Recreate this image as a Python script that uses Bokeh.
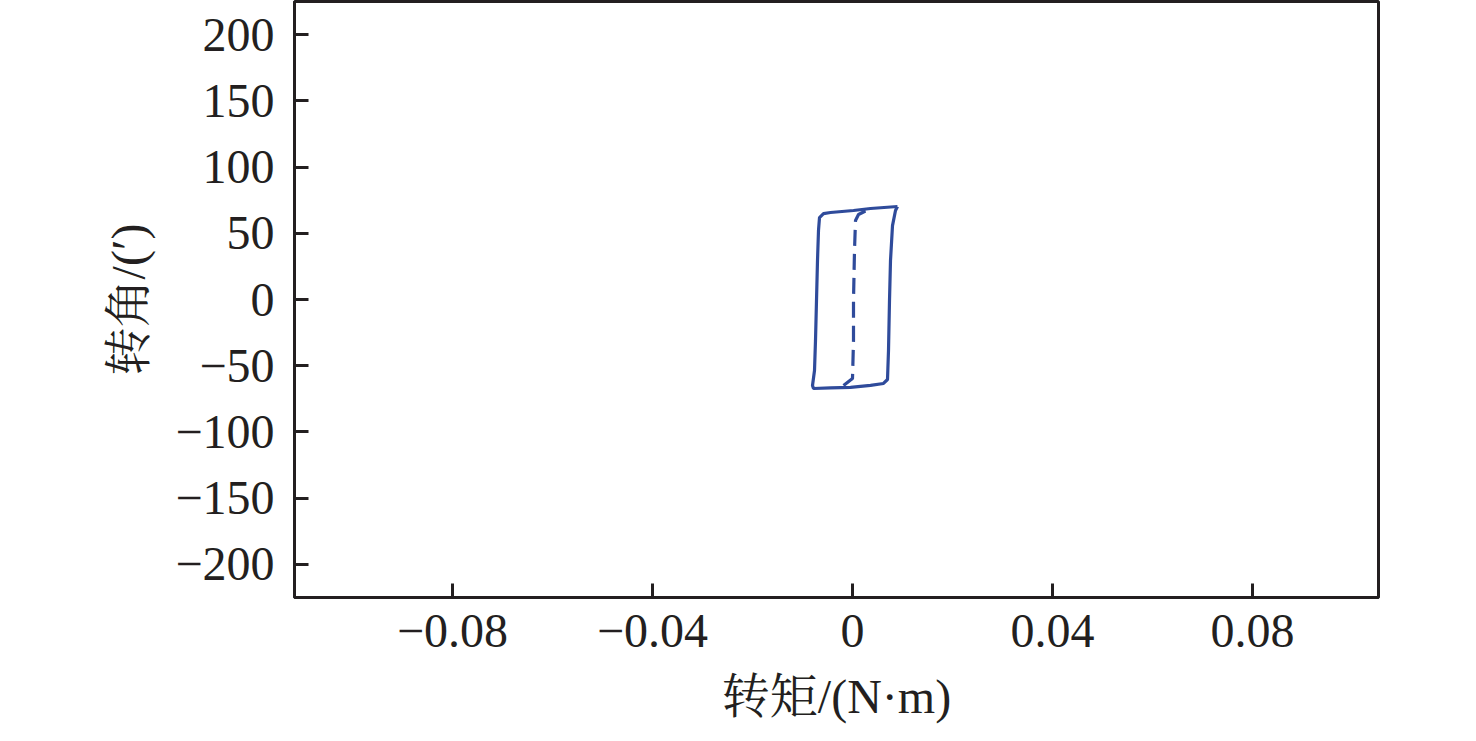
from bokeh.plotting import figure
from bokeh.models import FixedTicker, CustomJSTickFormatter, Range1d
from bokeh.embed import file_html
from bokeh.resources import INLINE

# Hysteresis loop (torque N·m, angle ′)
loop_x = [0.0090, 0.0036, 0.0002, -0.0044, -0.0058, -0.0066, -0.0068, -0.0070, -0.0072,
          -0.0074, -0.0076, -0.0080, -0.0078, -0.0044, -0.0004, 0.0036, 0.0062, 0.0070,
          0.0072, 0.0074, 0.0076, 0.0080, 0.0086, 0.0090]
loop_y = [70.2, 68.7, 67.2, 65.7, 64.9, 61.9, 52.1, 29.4, -0.8,
          -30.9, -53.6, -64.9, -67.2, -66.8, -66.4, -64.9, -63.4, -60.4,
          -38.5, -0.8, 29.4, 55.8, 67.2, 70.2]

# Initial (dashed) curve
init_x = [-0.0018, 0.0000, 0.0002, 0.0002, 0.0004, 0.0006, 0.0012, 0.0024, 0.0036]
init_y = [-64.9, -59.6, -30.9, -0.8, 37.0, 59.6, 64.2, 66.4, 67.5]

x_ticks = [-0.08, -0.04, 0, 0.04, 0.08]
y_ticks = [-200, -150, -100, -50, 0, 50, 100, 150, 200]

FONT = "'Liberation Serif', 'Times New Roman', serif"
CJK_FONT = "'Liberation Serif', 'Noto Serif CJK SC', 'Noto Sans CJK SC', serif"
LINE = "#2f4b9b"

p = figure(width=1460, height=725, output_backend="svg", toolbar_location=None,
           x_range=Range1d(-0.1116, 0.1052), y_range=Range1d(-225, 225),
           min_border_left=294, min_border_right=82, min_border_top=1, min_border_bottom=128)
p.background_fill_color = "white"
p.border_fill_color = "white"
p.grid.visible = False
p.outline_line_color = "#231f20"
p.outline_line_width = 3

p.line(loop_x, loop_y, line_color=LINE, line_width=3.2)
p.line(init_x, init_y, line_color=LINE, line_width=3.2, line_dash="16 8")

for ax in (p.xaxis[0], p.yaxis[0]):
    ax.axis_line_color = "#231f20"
    ax.axis_line_width = 3
    ax.major_tick_line_color = "#231f20"
    ax.major_tick_line_width = 3
    ax.major_tick_in = 14
    ax.major_tick_out = 0
    ax.minor_tick_line_color = None
    ax.major_label_text_font = FONT
    ax.major_label_text_font_size = "48px"
    ax.major_label_text_color = "#231f20"
    ax.axis_label_text_font = CJK_FONT
    ax.axis_label_text_font_size = "48px"
    ax.axis_label_text_font_style = "normal"
    ax.axis_label_text_color = "#231f20"

p.xaxis.major_label_standoff = 17
p.yaxis.major_label_standoff = 20
p.xaxis.ticker = FixedTicker(ticks=x_ticks)
p.yaxis.ticker = FixedTicker(ticks=y_ticks)
p.xaxis.formatter = CustomJSTickFormatter(code="""
    if (Math.abs(tick) < 1e-9) return "0";
    return tick.toFixed(2).replace("-", "\u2212");
""")
p.yaxis.formatter = CustomJSTickFormatter(code="""
    return tick.toFixed(0).replace("-", "\u2212");
""")
p.xaxis.axis_label = "转矩/(N·m)"
p.yaxis.axis_label = "转角/(′)"
p.xaxis.axis_label_standoff = 20
p.yaxis.axis_label_standoff = 17

open("out.html", "w").write(file_html(p, INLINE))
